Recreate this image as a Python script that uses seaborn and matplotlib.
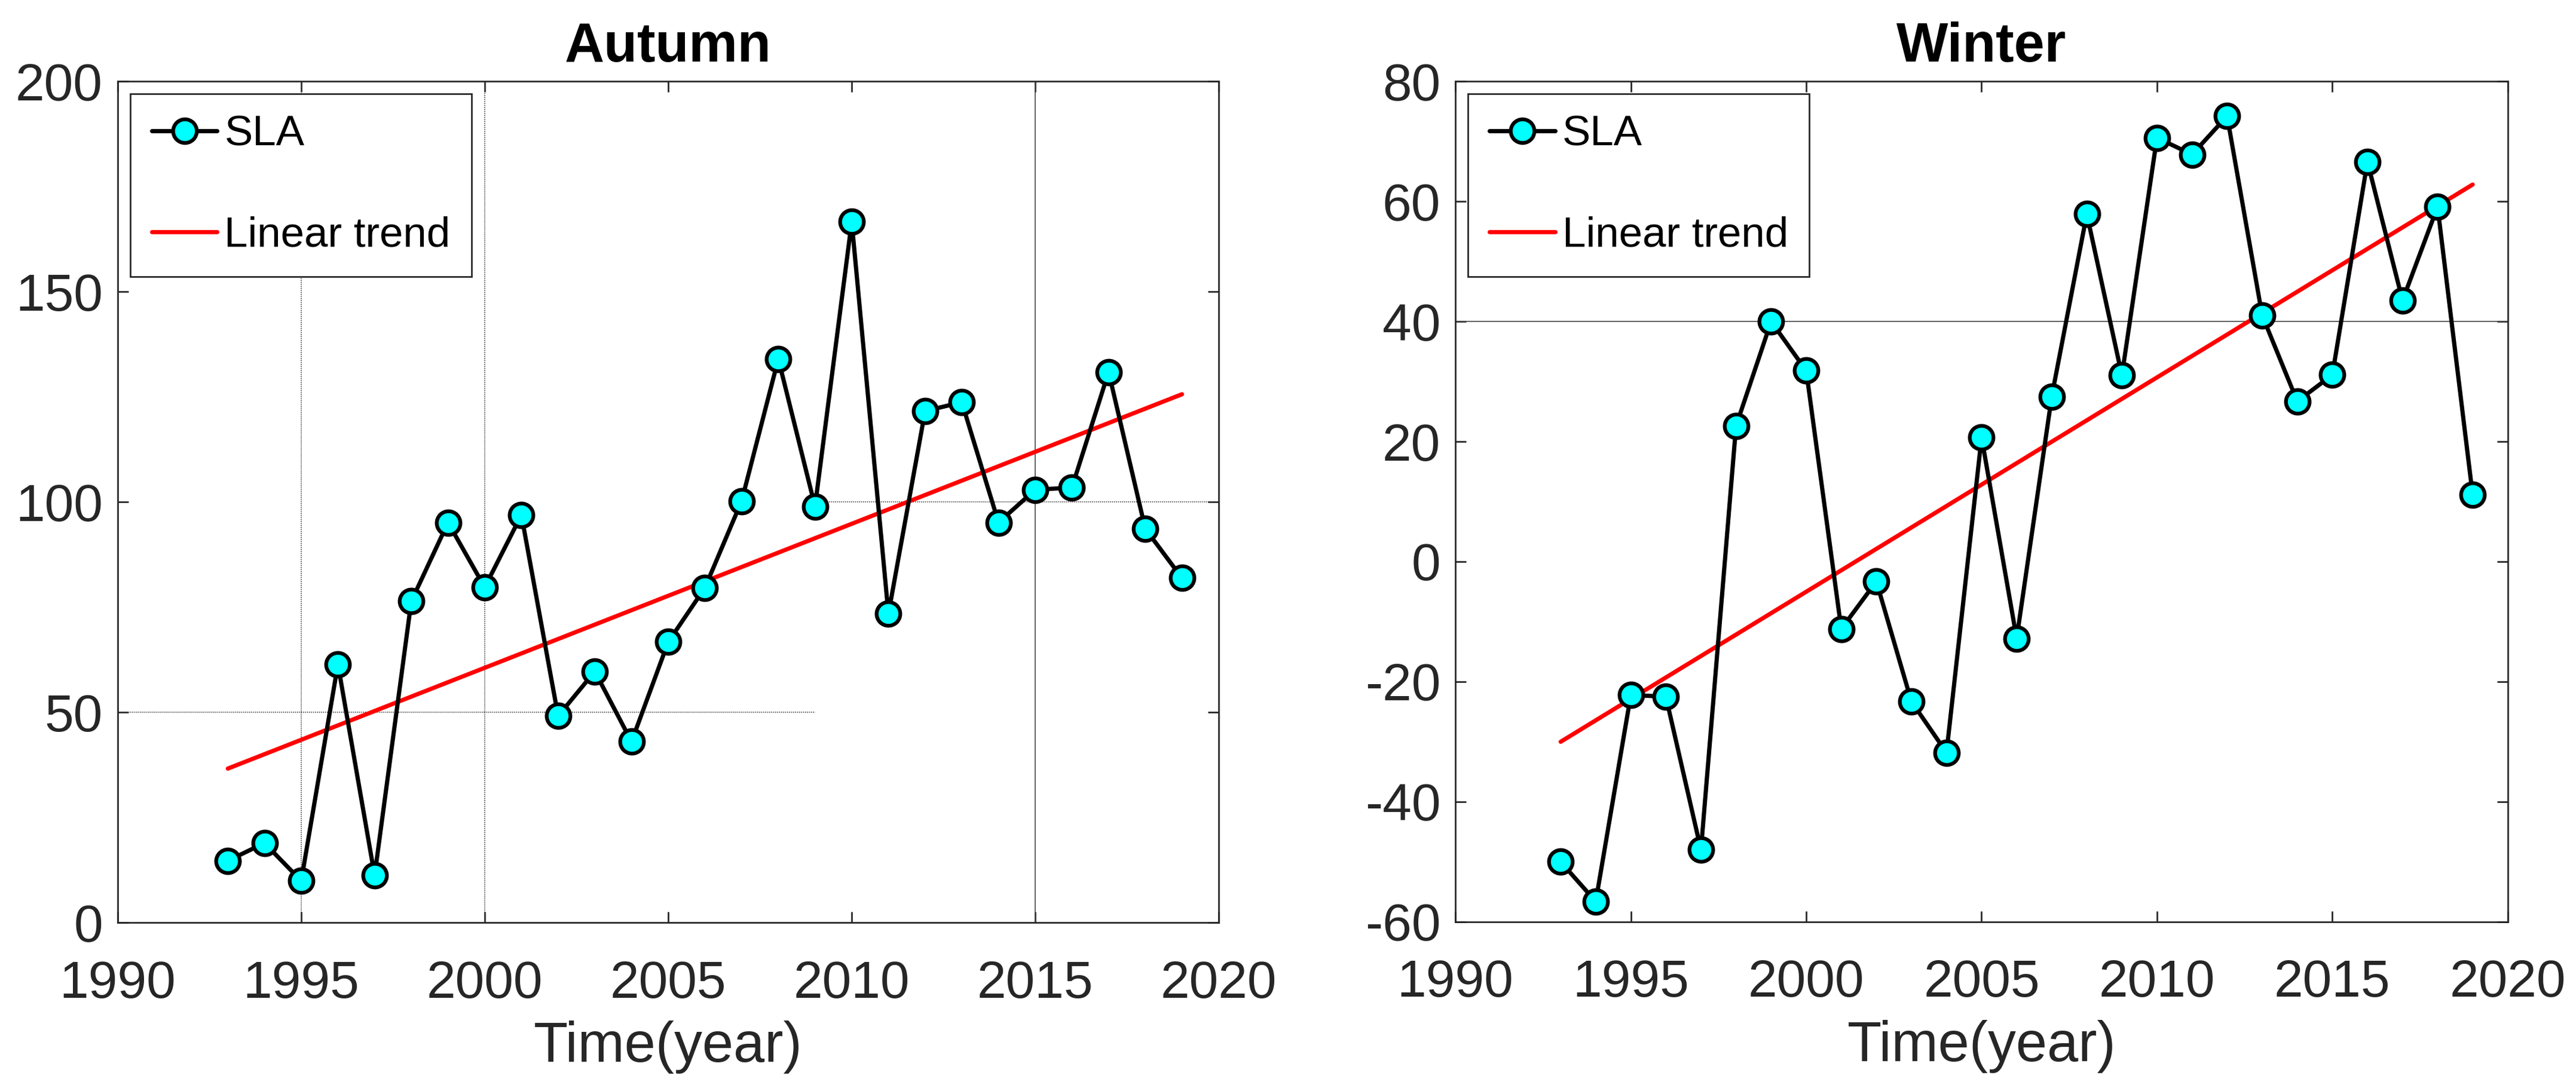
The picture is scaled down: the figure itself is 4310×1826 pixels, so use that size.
# Import libraries
import pandas as pd
import matplotlib
matplotlib.use('Agg')
import matplotlib.pyplot as plt
import seaborn as sns

sns.set_theme(style='white')
plt.rcParams['font.family'] = ['Liberation Sans', 'DejaVu Sans']
plt.rcParams['axes.unicode_minus'] = False

# Data
years = list(range(1993, 2020))
autumn_sla = [14.7, 18.9, 9.9, 61.4, 11.2, 76.4, 95.1, 79.7, 96.9, 49.1,
              59.7, 43.0, 66.7, 79.6, 100.2, 134.0, 98.9, 166.6, 73.4, 121.6,
              123.7, 95.1, 102.9, 103.4, 130.9, 93.6, 81.9]
winter_sla = [-50.0, -56.6, -22.2, -22.5, -48.0, 22.6, 40.0, 31.8, -11.2, -3.3,
              -23.3, -31.8, 20.7, -12.8, 27.5, 57.9, 31.0, 70.6, 67.8, 74.2,
              41.0, 26.7, 31.1, 66.6, 43.5, 59.1, 11.1]
trend_years = [1993, 2019]
autumn_trend = [36.6, 125.6]
winter_trend = [-30.0, 62.8]

x_ticks = [1990, 1995, 2000, 2005, 2010, 2015, 2020]
autumn_yticks = [0, 50, 100, 150, 200]
winter_yticks = [-60, -40, -20, 0, 20, 40, 60, 80]

dark = '#262626'

# Figure
fig = plt.figure(figsize=(4310 / 300, 1826 / 300), dpi=300)
ax1 = fig.add_axes([0.0457, 0.1544, 0.4274, 0.7711])
ax2 = fig.add_axes([0.5650, 0.1550, 0.4085, 0.7705])


def draw_panel(ax, sla, trend, title, yticks):
    df = pd.DataFrame({'year': years, 'sla': sla})
    tr = pd.DataFrame({'year': trend_years, 'trend': trend})
    sns.lineplot(data=df, x='year', y='sla', ax=ax, color='black', lw=1.7,
                 marker='o', markersize=9.5, markerfacecolor='#00FFFF',
                 markeredgecolor='black', markeredgewidth=1.5,
                 label='SLA', zorder=4)
    sns.lineplot(data=tr, x='year', y='trend', ax=ax, color='#FF0000', lw=1.7,
                 label='Linear trend', zorder=3)
    ax.set_xlim(x_ticks[0], x_ticks[-1])
    ax.set_ylim(yticks[0], yticks[-1])
    ax.set_xticks(x_ticks)
    ax.set_yticks(yticks)
    ax.tick_params(direction='in', length=4.3, width=0.65, colors=dark,
                   labelsize=21, top=True, right=True, bottom=True, left=True)
    ax.tick_params(axis='x', pad=15)
    ax.tick_params(axis='y', pad=6)
    for s in ax.spines.values():
        s.set_color(dark)
        s.set_linewidth(0.65)
        s.set_zorder(6)
    ax.set_title(title, fontsize=22, fontweight='bold', color='black', pad=8)
    ax.set_xlabel('Time(year)', fontsize=22.5, color=dark, labelpad=5)
    ax.set_ylabel('')
    leg = ax.legend(loc='upper left', fontsize=17, frameon=True, fancybox=False,
                    framealpha=1, edgecolor=dark, handlelength=1.55,
                    handletextpad=0.17, labelspacing=1.45,
                    borderpad=0.5, borderaxespad=0.3)
    leg.get_frame().set_linewidth(0.65)
    for t in leg.get_texts():
        t.set_color('black')
    leg.set_zorder(7)


draw_panel(ax1, autumn_sla, autumn_trend, 'Autumn', autumn_yticks)
draw_panel(ax2, winter_sla, winter_trend, 'Winter', winter_yticks)

# Stray guide lines present in the original figure
guide = dict(color='#444444', lw=0.4, zorder=1)
ax1.axvline(1995, ls=(0, (1, 1)), **guide)
ax1.axvline(2000, ls=(0, (1, 1)), **guide)
ax1.axvline(2015, ls='-', **guide)
ax1.axhline(50, xmax=(2009 - 1990) / 30, ls=(0, (1, 1)), **guide)
ax1.axhline(100, xmin=(2009 - 1990) / 30, ls=(0, (1, 1)), **guide)
ax2.axhline(40, ls='-', **guide)

plt.savefig('out.png', dpi=300)
